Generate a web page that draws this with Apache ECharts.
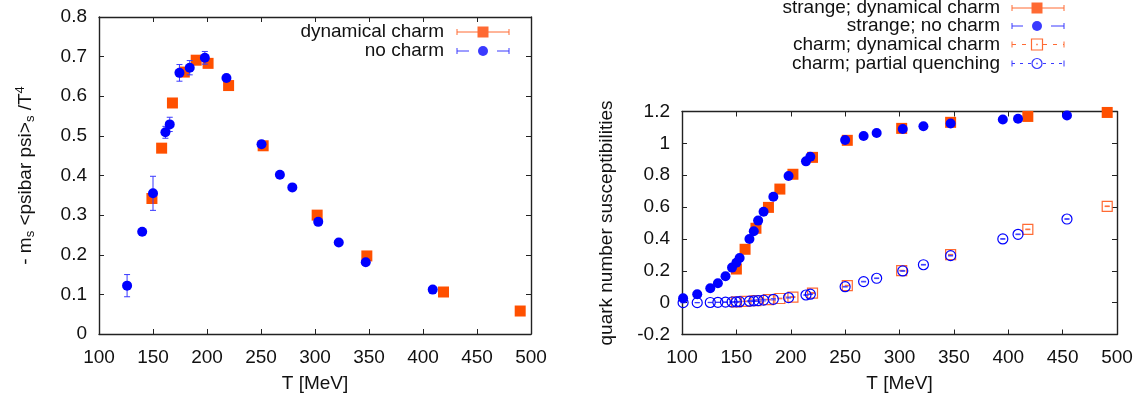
<!DOCTYPE html>
<html><head><meta charset="utf-8">
<script src="https://cdn.jsdelivr.net/npm/echarts@6/dist/echarts.min.js"></script>
<style>html,body{margin:0;padding:0;background:#fff}#c{width:1146px;height:401px}</style>
</head><body><div id="c"></div>
<script>
// ---------- Left panel: - m_s <psibar psi>_s / T^4 ----------
const xTicks = [100,150,200,250,300,350,400,450,500];
const T_left_dyn = [149,158,168,179,190,201,220,252,302,348,419,490];
const cond_dyn   = [0.342,0.469,0.583,0.661,0.691,0.683,0.627,0.475,0.300,0.197,0.106,0.058];
const T_left_no  = [126,140,150,161.5,165.5,174.5,184,198,218,250.5,267.5,279,303,322,347,409];
const cond_no    = [0.122,0.258,0.355,0.509,0.529,0.659,0.672,0.697,0.646,0.479,0.402,0.370,0.283,0.231,0.181,0.112];
const cond_no_err= [0.028,0.004,0.043,0.015,0.018,0.021,0.018,0.016,0.004,0.004,0.004,0.003,0.004,0.003,0.003,0.003];

// ---------- Right panel: quark number susceptibilities ----------
const T_right_dyn = [150,158,168,179.5,190,202,220,252,302,347,418,491];
const chi_s_dyn   = [0.211,0.335,0.467,0.598,0.713,0.806,0.912,1.019,1.094,1.132,1.169,1.194];
const chi_c_dyn   = [0.005,0.008,0.013,0.019,0.026,0.035,0.060,0.107,0.201,0.301,0.460,0.605];
const chi_c_dyn_err=[0.002,0.002,0.002,0.002,0.002,0.003,0.003,0.002,0.002,0.002,0.002,0.002];
const T_right_no  = [101,114,126,133,140,146,150,153,162,166,170,175,184,198,214,218,250,267,279,303,322,347,395,409,454];
const chi_s_no    = [0.028,0.053,0.090,0.122,0.166,0.220,0.251,0.280,0.400,0.448,0.515,0.571,0.665,0.795,0.887,0.916,1.021,1.046,1.065,1.090,1.107,1.125,1.150,1.154,1.175];
const chi_c_pq    = [0.000,0.000,0.001,0.002,0.003,0.004,0.005,0.006,0.009,0.011,0.013,0.016,0.021,0.032,0.048,0.053,0.100,0.132,0.153,0.199,0.238,0.295,0.400,0.429,0.525];
const chi_c_pq_err= [0.001,0.001,0.001,0.001,0.002,0.002,0.002,0.002,0.003,0.004,0.005,0.005,0.004,0.003,0.002,0.002,0.002,0.002,0.002,0.002,0.002,0.002,0.002,0.002,0.002];

const leftLegend  = ['dynamical charm','no charm'];
const rightLegend = ['strange; dynamical charm','strange; no charm','charm; dynamical charm','charm; partial quenching'];

const ORANGE = '#ff5000', ORANGE_L = '#ff6a33', BLUE = '#0000ff', BLUE_L = '#3a3aff';
const FONT = 'Liberation Sans, Arial, Helvetica, sans-serif';
const FS = 19, AX = '#222';

function pts(T, v){ return T.map((t,i)=>[t, v[i]]); }

function xAx(grid, pos){
  const main = pos === 'bottom';
  return {
    gridIndex: grid, type:'value', min:100, max:500, interval:50, position:pos,
    axisLine:{show:true, onZero:false, lineStyle:{color:AX, width:1.4}},
    axisTick:{show:true, inside:true, length:5, lineStyle:{color:AX, width:1}},
    axisLabel:{show:main, fontSize:FS, fontFamily:FONT, color:'#111', margin:14},
    splitLine:{show:false},
    name: main ? 'T [MeV]' : '', nameLocation:'middle', nameGap:40,
    nameTextStyle:{fontSize:FS, fontFamily:FONT, color:'#111'}
  };
}
function yAx(grid, pos, min, max, interval, name, nameGap){
  const main = pos === 'left';
  return {
    gridIndex: grid, type:'value', min, max, interval, position:pos,
    axisLine:{show:true, onZero:false, lineStyle:{color:AX, width:1.4}},
    axisTick:{show:true, inside:true, length:5, lineStyle:{color:AX, width:1}},
    axisLabel:{show:main, fontSize:FS, fontFamily:FONT, color:'#111', margin:12},
    splitLine:{show:false},
    name: main ? name : '', nameLocation:'middle', nameGap: nameGap, nameRotate:90,
    nameTextStyle:{fontSize:FS, fontFamily:FONT, color:'#111',
      rich:{
        s:{fontSize:13, fontFamily:FONT, color:'#111', padding:[10,0,0,0], verticalAlign:'bottom'},
        p:{fontSize:13, fontFamily:FONT, color:'#111', padding:[0,0,9,0], verticalAlign:'top'}
      }}
  };
}

function errSeries(xi, yi, T, v, e, color, cap, z){
  return {
    type:'custom', xAxisIndex:xi, yAxisIndex:yi, z:z, silent:true,
    data: T.map((t,i)=>[t, v[i], e[i]]),
    encode:{x:0, y:1},
    renderItem:(params, api)=>{
      const x = api.value(0), y = api.value(1), er = api.value(2);
      const a = api.coord([x, y-er]), b = api.coord([x, y+er]);
      const st = {stroke:color, lineWidth:1};
      return {type:'group', children:[
        {type:'line', shape:{x1:a[0],y1:a[1],x2:b[0],y2:b[1]}, style:st},
        {type:'line', shape:{x1:a[0]-cap,y1:a[1],x2:a[0]+cap,y2:a[1]}, style:st},
        {type:'line', shape:{x1:b[0]-cap,y1:b[1],x2:b[0]+cap,y2:b[1]}, style:st}
      ]};
    }
  };
}

function scat(xi, yi, T, v, symbol, size, fill, stroke, z){
  return {
    type:'scatter', xAxisIndex:xi, yAxisIndex:yi, z:z, silent:true,
    symbol, symbolSize:size, data:pts(T, v),
    itemStyle: stroke ? {color:'rgba(255,255,255,0)', borderColor:stroke, borderWidth:1.2, opacity:1}
                      : {color:fill, opacity:1},
    emphasis:{disabled:true}
  };
}

// legend rows (graphic)
function legendRow(label, xText, xs, xe, xc, y, color, dash, sym, filled, gapL, gapR){
  const els = [];
  els.push({type:'text', z:100, style:{text:label, x:xText, y:y, align:'right', verticalAlign:'middle',
    textAlign:'right', textVerticalAlign:'middle', font: FS+'px '+FONT, fill:'#111'}});
  const ls = {stroke:color, lineWidth:1, lineDash:dash};
  els.push({type:'line', z:100, shape:{x1:xs, y1:y, x2:xc-gapL, y2:y}, style:ls});
  els.push({type:'line', z:100, shape:{x1:xc+gapR, y1:y, x2:xe, y2:y}, style:ls});
  els.push({type:'line', z:100, shape:{x1:xs, y1:y-3, x2:xs, y2:y+3}, style:{stroke:color, lineWidth:1}});
  els.push({type:'line', z:100, shape:{x1:xe, y1:y-3, x2:xe, y2:y+3}, style:{stroke:color, lineWidth:1}});
  if (sym === 'rect') {
    els.push({type:'rect', z:101, shape:{x:xc-5.5, y:y-5.5, width:11, height:11},
      style: filled ? {fill:color} : {fill:'#fff', stroke:color, lineWidth:1.2}});
  } else {
    els.push({type:'circle', z:101, shape:{cx:xc, cy:y, r:5},
      style: filled ? {fill:color} : {fill:'#fff', stroke:color, lineWidth:1.2}});
  }
  if (!filled) els.push({type:'rect', z:102, shape:{x:xc-0.7, y:y-0.7, width:1.4, height:1.4}, style:{fill:color}});
  return els;
}

const graphics = [].concat(
  legendRow(leftLegend[0], 444, 457, 509, 483, 32, ORANGE_L, null, 'rect', true, 0, 0),
  legendRow(leftLegend[1], 444, 457, 509, 483, 51, BLUE_L, null, 'circle', true, 14, 14),
  legendRow(rightLegend[0], 1000, 1012, 1064, 1037, 8, ORANGE_L, null, 'rect', true, 0, 0),
  legendRow(rightLegend[1], 1000, 1012, 1064, 1037, 26, BLUE_L, null, 'circle', true, 14, 14),
  legendRow(rightLegend[2], 1000, 1012, 1064, 1037, 44.5, ORANGE_L, [4,6], 'rect', false, 6, 6),
  legendRow(rightLegend[3], 1000, 1012, 1064, 1037, 63.5, BLUE_L, [3,5], 'circle', false, 6, 6)
);

const option = {
  animation:false,
  backgroundColor:'#fff',
  grid:[
    {left:99, top:17, width:432, height:317, containLabel:false},
    {left:682, top:111.5, width:435, height:223, containLabel:false}
  ],
  xAxis:[ xAx(0,'bottom'), xAx(0,'top'), xAx(1,'bottom'), xAx(1,'top') ],
  yAxis:[
    yAx(0,'left',0,0.8,0.1,'- m{s|s} <psibar psi>{s|s} /T{p|4}', 62),
    yAx(0,'right',0,0.8,0.1,'',0),
    yAx(1,'left',-0.2,1.2,0.2,'quark number susceptibilities', 66),
    yAx(1,'right',-0.2,1.2,0.2,'',0)
  ],
  series:[
    // left panel
    scat(0,0,T_left_dyn,cond_dyn,'rect',11,ORANGE,null,2),
    errSeries(0,0,T_left_no,cond_no,cond_no_err,BLUE_L,3,3),
    scat(0,0,T_left_no,cond_no,'circle',10,BLUE,null,4),
    // right panel
    errSeries(2,2,T_right_dyn,chi_c_dyn,chi_c_dyn_err,ORANGE_L,2.5,2),
    scat(2,2,T_right_dyn,chi_c_dyn,'rect',10,null,ORANGE_L,2),
    errSeries(2,2,T_right_no,chi_c_pq,chi_c_pq_err,BLUE_L,2.5,3),
    scat(2,2,T_right_no,chi_c_pq,'circle',10,null,BLUE,3),
    scat(2,2,T_right_dyn,chi_s_dyn,'rect',11,ORANGE,null,4),
    scat(2,2,T_right_no,chi_s_no,'circle',10,BLUE,null,5)
  ],
  graphic: graphics
};

const chart = echarts.init(document.getElementById('c'), null, {renderer:'canvas'});
chart.setOption(option);
</script>
</body></html>
